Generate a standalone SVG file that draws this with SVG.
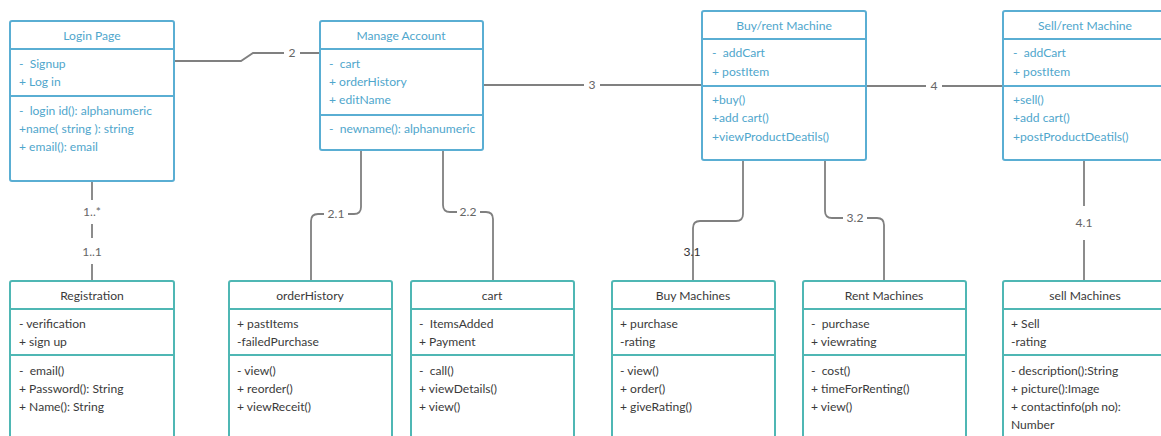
<svg xmlns="http://www.w3.org/2000/svg" width="1161" height="436" viewBox="0 0 1161 436">
<style>
text{font-family:Lato,"Open Sans","Liberation Sans",sans-serif;font-size:12.1px;white-space:pre}
.tb{fill:#fff;stroke:#5aaed3;stroke-width:2}
.td{stroke:#5aaed3;stroke-width:2}
.tt{fill:#4fa6cc}
.bb{fill:#fff;stroke:#4fb7b4;stroke-width:2}
.bd{stroke:#4fb7b4;stroke-width:2}
.bt{fill:#3a3a3a}
.c{text-anchor:middle}
.ln{fill:none;stroke:#808080;stroke-width:1.8}
.lb{fill:#666;text-anchor:middle}
</style>
<rect width="1161" height="436" fill="#fff"/>
<g id="connectors">
<path class="ln" d="M92 181V200M92 224V238M92 264V281"/>
<text class="lb" x="92" y="216">1..*</text>
<text class="lb" x="92" y="256">1..1</text>
<path class="ln" d="M174 61H241L253 53H284M300 53H320"/>
<text class="lb" x="292" y="57">2</text>
<path class="ln" d="M483 85H584M600 85H702"/>
<text class="lb" x="592" y="89">3</text>
<path class="ln" d="M866 86H926M942 86H1003"/>
<text class="lb" x="934" y="90">4</text>
<path class="ln" d="M361 150V207Q361 214 354 214H348M324 214H318Q311 214 311 221V281"/>
<text class="lb" x="336" y="218">2.1</text>
<path class="ln" d="M443 150V205Q443 212 450 212H457M480 212H486Q493 212 493 219V281"/>
<text class="lb" x="468" y="216">2.2</text>
<path class="ln" d="M743 160V214Q743 221 736 221H700Q693 221 693 228V281"/>
<text class="lb" x="692" y="256" style="fill:#333">3.1</text>
<path class="ln" d="M825 160V211Q825 218 832 218H843M867 218H877Q884 218 884 225V281"/>
<text class="lb" x="855" y="222">3.2</text>
<path class="ln" d="M1084 160V206M1084 240V281"/>
<text class="lb" x="1084" y="227">4.1</text>
</g>
<g id="login">
<rect class="tb" x="10" y="21" width="164" height="160" rx="2"/>
<path class="td" d="M10 49H174M10 96H174"/>
<text class="tt c" x="92" y="40">Login Page</text>
<text class="tt" x="19" y="68">-  Signup</text>
<text class="tt" x="19" y="86">+ Log in</text>
<text class="tt" x="19" y="115">-  login id(): alphanumeric</text>
<text class="tt" x="19" y="133">+name( string ): string</text>
<text class="tt" x="19" y="151">+ email(): email</text>
</g>
<g id="manage">
<rect class="tb" x="320" y="21" width="163" height="129" rx="2"/>
<path class="td" d="M320 49H483M320 115H483"/>
<text class="tt c" x="401" y="40">Manage Account</text>
<text class="tt" x="329" y="68">-  cart</text>
<text class="tt" x="329" y="86">+ orderHistory</text>
<text class="tt" x="329" y="104">+ editName</text>
<text class="tt" x="329" y="133">-  newname(): alphanumeric</text>
</g>
<g id="buyrent">
<rect class="tb" x="702" y="11" width="164" height="149" rx="2"/>
<path class="td" d="M702 39H866M702 86H866"/>
<text class="tt c" x="784" y="30">Buy/rent Machine</text>
<text class="tt" x="712" y="57">-  addCart</text>
<text class="tt" x="712" y="76">+ postItem</text>
<text class="tt" x="712" y="104">+buy()</text>
<text class="tt" x="712" y="122">+add cart()</text>
<text class="tt" x="712" y="141">+viewProductDeatils()</text>
</g>
<g id="sellrent">
<rect class="tb" x="1003" y="11" width="164" height="149" rx="2"/>
<path class="td" d="M1003 39H1167M1003 86H1167"/>
<text class="tt c" x="1085" y="30">Sell/rent Machine</text>
<text class="tt" x="1013" y="57">-  addCart</text>
<text class="tt" x="1013" y="76">+ postItem</text>
<text class="tt" x="1013" y="104">+sell()</text>
<text class="tt" x="1013" y="122">+add cart()</text>
<text class="tt" x="1013" y="141">+postProductDeatils()</text>
</g>
<g id="registration">
<rect class="bb" x="10" y="281" width="164" height="170" rx="2"/>
<path class="bd" d="M10 309H174M10 355H174"/>
<text class="bt c" x="92" y="300">Registration</text>
<text class="bt" x="19" y="328">- verification</text>
<text class="bt" x="19" y="346">+ sign up</text>
<text class="bt" x="19" y="375">-  email()</text>
<text class="bt" x="19" y="393">+ Password(): String</text>
<text class="bt" x="19" y="411">+ Name(): String</text>
</g>
<g id="orderhistory">
<rect class="bb" x="229" y="281" width="163" height="170" rx="2"/>
<path class="bd" d="M229 309H392M229 355H392"/>
<text class="bt c" x="310" y="300">orderHistory</text>
<text class="bt" x="237" y="328">+ pastItems</text>
<text class="bt" x="237" y="346">-failedPurchase</text>
<text class="bt" x="237" y="375">- view()</text>
<text class="bt" x="237" y="393">+ reorder()</text>
<text class="bt" x="237" y="411">+ viewReceit()</text>
</g>
<g id="cart">
<rect class="bb" x="411" y="281" width="163" height="170" rx="2"/>
<path class="bd" d="M411 309H574M411 355H574"/>
<text class="bt c" x="492" y="300">cart</text>
<text class="bt" x="419" y="328">-  ItemsAdded</text>
<text class="bt" x="419" y="346">+ Payment</text>
<text class="bt" x="419" y="375">-  call()</text>
<text class="bt" x="419" y="393">+ viewDetails()</text>
<text class="bt" x="419" y="411">+ view()</text>
</g>
<g id="buymachines">
<rect class="bb" x="612" y="281" width="163" height="170" rx="2"/>
<path class="bd" d="M612 309H775M612 355H775"/>
<text class="bt c" x="693" y="300">Buy Machines</text>
<text class="bt" x="620" y="328">+ purchase</text>
<text class="bt" x="620" y="346">-rating</text>
<text class="bt" x="620" y="375">- view()</text>
<text class="bt" x="620" y="393">+ order()</text>
<text class="bt" x="620" y="411">+ giveRating()</text>
</g>
<g id="rentmachines">
<rect class="bb" x="803" y="281" width="163" height="170" rx="2"/>
<path class="bd" d="M803 309H966M803 355H966"/>
<text class="bt c" x="884" y="300">Rent Machines</text>
<text class="bt" x="811" y="328">-  purchase</text>
<text class="bt" x="811" y="346">+ viewrating</text>
<text class="bt" x="811" y="375">-  cost()</text>
<text class="bt" x="811" y="393">+ timeForRenting()</text>
<text class="bt" x="811" y="411">+ view()</text>
</g>
<g id="sellmachines">
<rect class="bb" x="1003" y="281" width="164" height="170" rx="2"/>
<path class="bd" d="M1003 309H1167M1003 355H1167"/>
<text class="bt c" x="1085" y="300">sell Machines</text>
<text class="bt" x="1011" y="328">+ Sell</text>
<text class="bt" x="1011" y="346">-rating</text>
<text class="bt" x="1011" y="375">- description():String</text>
<text class="bt" x="1011" y="393">+ picture():Image</text>
<text class="bt" x="1011" y="411">+ contactinfo(ph no):</text>
<text class="bt" x="1011" y="429">Number</text>
</g>
</svg>
